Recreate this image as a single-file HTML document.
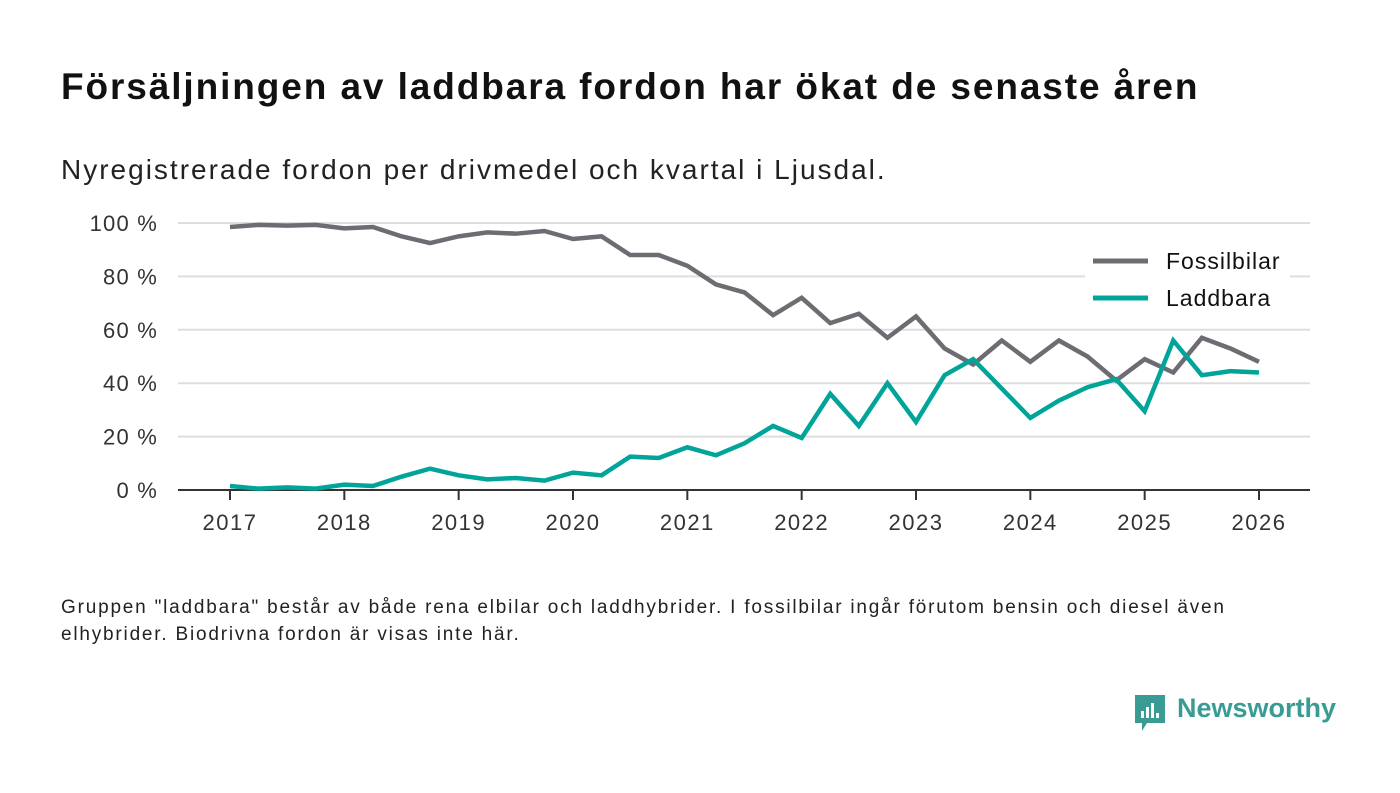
<!DOCTYPE html>
<html><head><meta charset="utf-8"><style>
body{margin:0;background:#fff;font-family:"Liberation Sans",sans-serif;}
#wrap{position:relative;width:1400px;height:793px;overflow:hidden;}
.t{position:absolute;white-space:nowrap;color:#111;}
</style></head><body>
<div id="wrap">
<div class="t" style="left:61px;top:66px;font-size:37px;font-weight:bold;letter-spacing:1.9px;">Försäljningen av laddbara fordon har ökat de senaste åren</div>
<div class="t" style="left:61px;top:154px;font-size:28px;color:#222;letter-spacing:2px;">Nyregistrerade fordon per drivmedel och kvartal i Ljusdal.</div>
<svg id="chart" width="1400" height="793" style="position:absolute;left:0;top:0"></svg>
<div class="t" style="left:61px;top:594px;font-size:19px;line-height:27px;color:#222;letter-spacing:1.8px;">Gruppen "laddbara" består av både rena elbilar och laddhybrider. I fossilbilar ingår förutom bensin och diesel även<br>elhybrider. Biodrivna fordon är visas inte här.</div>
<div style="position:absolute;left:1133px;top:693px;width:210px;height:42px;">
<svg width="34" height="40" style="position:absolute;left:0;top:0"><path d="M2 2h30v28H14l-5 8v-8H2z" fill="#3a9b94"/><rect x="8" y="18" width="3" height="7" fill="#fff"/><rect x="13" y="14" width="3" height="11" fill="#fff"/><rect x="18" y="10" width="3" height="15" fill="#fff"/><rect x="23" y="20" width="3" height="5" fill="#fff"/></svg>
<div class="t" style="left:44px;top:0px;font-size:27px;font-weight:bold;color:#3a9b94;">Newsworthy</div>
</div>
</div>
<script>
const years=[2017,2018,2019,2020,2021,2022,2023,2024,2025,2026];
const yTicks=[0,20,40,60,80,100];
const fossil=[98.5,99.3,99,99.3,98,98.5,95,92.5,95,96.5,96,97,94,95,88,88,84,77,74,65.5,72,62.5,66,57,65,53,47,56,48,56,50,41,49,44,57,53,48];
const laddbara=[1.5,0.5,1,0.5,2,1.5,5,8,5.5,4,4.5,3.5,6.5,5.5,12.5,12,16,13,17.5,24,19.5,36,24,40,25.5,43,49,38,27,33.5,38.5,41.5,29.5,56,43,44.5,44];
const startYear=2017;
const NS="http://www.w3.org/2000/svg";
const svg=document.getElementById('chart');
const X=v=>230+(v-2017)*(1259-230)/9;
const Y=v=>490-v*(490-223)/100;
function mk(t,a){const e=document.createElementNS(NS,t);for(const k in a)e.setAttribute(k,a[k]);svg.appendChild(e);return e;}
yTicks.forEach(v=>{
 if(v>0){const g=mk('line',{x1:178,x2:1310,y1:Y(v),y2:Y(v),stroke:'#ddd','stroke-width':2});
 
 }
 const t=mk('text',{x:158,y:Y(v)+8,'text-anchor':'end','font-size':22,'letter-spacing':1.2,fill:'#333','font-family':'Liberation Sans, sans-serif'});
 t.textContent=v+' %';
 
 
});
years.forEach(y=>{
 const l=mk('line',{x1:X(y),x2:X(y),y1:490,y2:500,stroke:'#333','stroke-width':2});
 
 
 const t=mk('text',{x:X(y),y:530,'text-anchor':'middle','font-size':22,'letter-spacing':1.5,fill:'#333','font-family':'Liberation Sans, sans-serif'});
 t.textContent=y;
 
 
});
const ax=mk('line',{x1:178,x2:1310,y1:490,y2:490,stroke:'#333','stroke-width':2});


function series(d,c,n){
 const p=mk('polyline',{points:d.map((v,i)=>X(startYear+i/4)+','+Y(v)).join(' '),fill:'none',stroke:c,'stroke-width':4.5,'stroke-linejoin':'miter'});
 
 
}
series(fossil,'#6d6c72','fossilbilar-line');
series(laddbara,'#00a499','laddbara-line');
const bg=mk('rect',{x:1085,y:240,width:205,height:85,fill:'#fff'});


[['Fossilbilar','#6d6c72',261],['Laddbara','#00a499',298]].forEach(([n,c,y])=>{
 const l=mk('line',{x1:1093,x2:1148,y1:y,y2:y,stroke:c,'stroke-width':5});
 
 
 const t=mk('text',{x:1166,y:y+8,'font-size':23,'letter-spacing':1,fill:'#111','font-family':'Liberation Sans, sans-serif'});
 t.textContent=n;
 
 
});
</script>
</body></html>
